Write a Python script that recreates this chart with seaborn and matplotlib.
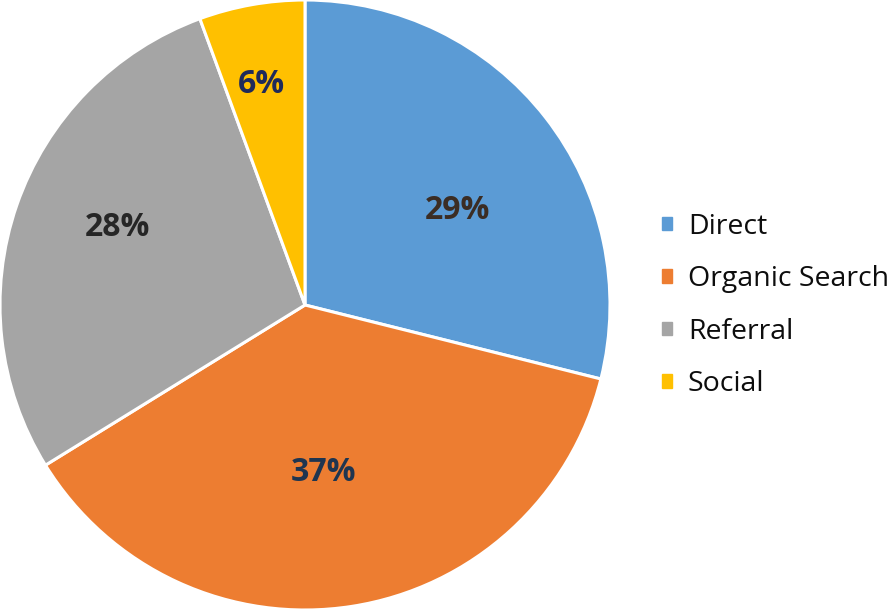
import matplotlib
matplotlib.use("Agg")
import numpy as np
import matplotlib.pyplot as plt
import seaborn as sns
from matplotlib.patches import Patch

sns.set_theme(style="white")
plt.rcParams['font.family'] = ['Open Sans', 'DejaVu Sans']

categories = ["Direct", "Organic Search", "Referral", "Social"]
values = [28.9, 37.3, 28.2, 5.6]
colors = ["#5B9BD5", "#ED7D31", "#A5A5A5", "#FFC000"]
label_colors = ["#3b2d24", "#1f3550", "#262626", "#1f2a5a"]
# label placement (style): radial distance and angular nudge in degrees
label_dist = [0.595, 0.538, 0.669, 0.75]
label_nudge = [-5.1, -2.5, -4.5, 1.0]

fig = plt.figure(figsize=(8.91, 6.11), dpi=100)
ax = fig.add_axes([0.0 / 891, 1 / 611, 610 / 891, 610 / 611])

wedges, texts, autotexts = ax.pie(
    values, colors=colors, startangle=90, counterclock=False,
    autopct=lambda p: f"{round(p):.0f}%", pctdistance=0.6,
    wedgeprops=dict(edgecolor="white", linewidth=2.2),
    textprops=dict(fontsize=23, fontweight="bold"),
    radius=1.0,
)
for w, t, c, d, n in zip(wedges, autotexts, label_colors, label_dist, label_nudge):
    t.set_color(c)
    mid = np.deg2rad((w.theta1 + w.theta2) / 2 + n)
    t.set_position((d * np.cos(mid), d * np.sin(mid)))
    t.set_va("center_baseline")
ax.set_aspect("equal")
ax.set_xlim(-1.0, 1.0)
ax.set_ylim(-1.0, 1.0)
ax.axis("off")

handles = [Patch(facecolor=c, edgecolor=c) for c in colors]
fig.legend(handles, categories, loc="center left",
           bbox_to_anchor=(662 / 891, 1 - 305.5 / 611),
           frameon=False, fontsize=20.5, handlelength=0.36, handleheight=0.36,
           handletextpad=0.55, labelspacing=0.86, borderaxespad=0, borderpad=0,
           labelcolor="#0d0d0d")

fig.savefig("out.png", dpi=100)
